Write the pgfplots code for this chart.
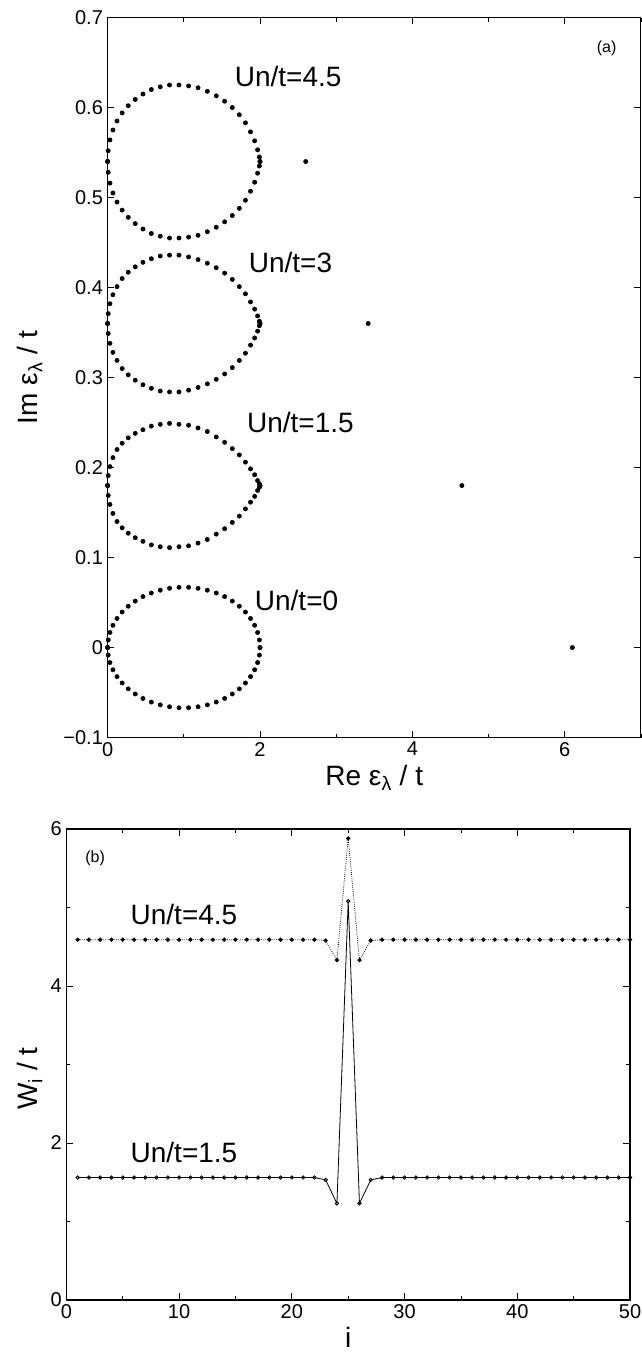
\documentclass[border=0pt]{standalone}
\usepackage{fontspec}
\setmainfont{Liberation Sans}
\usepackage{pgfplots}
\pgfplotsset{compat=1.18}
\usepackage{pgfplotstable}

\pgfplotstableread{
x y0t y0b y1t y1b y3t y3b y4t y4b
0 0 0 0.180 0.180 0.360 0.360 0.540 0.540
0.008 0.0084 -0.0084 0.191 0.169 0.371 0.349 0.552 0.528
0.031 0.0167 -0.0167 0.201 0.159 0.382 0.338 0.564 0.516
0.070 0.0247 -0.0247 0.211 0.149 0.392 0.328 0.575 0.505
0.124 0.0323 -0.0323 0.220 0.140 0.401 0.319 0.585 0.495
0.191 0.0394 -0.0394 0.227 0.133 0.410 0.310 0.594 0.486
0.271 0.0459 -0.0459 0.233 0.127 0.417 0.303 0.602 0.478
0.363 0.0516 -0.0516 0.238 0.122 0.423 0.297 0.609 0.471
0.464 0.0566 -0.0566 0.242 0.118 0.428 0.292 0.615 0.465
0.574 0.0606 -0.0606 0.246 0.114 0.432 0.288 0.620 0.460
0.691 0.0637 -0.0637 0.248 0.112 0.435 0.285 0.623 0.457
0.813 0.0658 -0.0658 0.249 0.111 0.436 0.284 0.625 0.455
0.937 0.0669 -0.0669 0.248 0.112 0.436 0.284 0.625 0.455
1.063 0.0669 -0.0669 0.247 0.113 0.434 0.286 0.624 0.456
1.187 0.0658 -0.0658 0.244 0.116 0.431 0.289 0.622 0.458
1.309 0.0637 -0.0637 0.240 0.120 0.427 0.293 0.618 0.462
1.426 0.0606 -0.0606 0.234 0.126 0.422 0.298 0.613 0.467
1.536 0.0566 -0.0566 0.228 0.132 0.416 0.304 0.607 0.473
1.637 0.0516 -0.0516 0.221 0.139 0.409 0.311 0.600 0.480
1.729 0.0459 -0.0459 0.214 0.146 0.401 0.319 0.592 0.488
1.809 0.0394 -0.0394 0.206 0.154 0.393 0.327 0.583 0.497
1.876 0.0323 -0.0323 0.1985 0.1615 0.384 0.336 0.573 0.507
1.930 0.0247 -0.0247 0.192 0.168 0.376 0.344 0.563 0.517
1.969 0.0167 -0.0167 0.1855 0.1745 0.3685 0.3515 0.553 0.527
1.992 0.0084 -0.0084 0.182 0.178 0.3625 0.3575 0.545 0.535
2 0 0 0.180 0.180 0.360 0.360 0.540 0.540
}\loops

\pgfplotstableread{
i w45 w15
1 4.59 1.56
2 4.59 1.56
3 4.59 1.56
4 4.59 1.56
5 4.59 1.56
6 4.59 1.56
7 4.59 1.56
8 4.59 1.56
9 4.59 1.56
10 4.59 1.56
11 4.59 1.56
12 4.59 1.56
13 4.59 1.56
14 4.59 1.56
15 4.59 1.56
16 4.59 1.56
17 4.59 1.56
18 4.59 1.56
19 4.59 1.56
20 4.59 1.56
21 4.59 1.56
22 4.59 1.56
23 4.58 1.53
24 4.33 1.23
25 5.88 5.08
26 4.33 1.23
27 4.58 1.53
28 4.59 1.56
29 4.59 1.56
30 4.59 1.56
31 4.59 1.56
32 4.59 1.56
33 4.59 1.56
34 4.59 1.56
35 4.59 1.56
36 4.59 1.56
37 4.59 1.56
38 4.59 1.56
39 4.59 1.56
40 4.59 1.56
41 4.59 1.56
42 4.59 1.56
43 4.59 1.56
44 4.59 1.56
45 4.59 1.56
46 4.59 1.56
47 4.59 1.56
48 4.59 1.56
49 4.59 1.56
50 4.59 1.56
}\wdata

\pgfplotsset{
  myaxis/.style={
    scale only axis,
    anchor=south west,
    axis line style={line width=0.8pt},
    every tick/.style={black, line width=0.6pt},
    tick align=inside,
    major tick length=5pt,
    minor tick length=3pt,
    tick label style={font=\fontsize{15}{17}\selectfont},
    label style={font=\fontsize{21}{24}\selectfont},
    /pgf/number format/assume math mode=true,
  },
  dots/.style={only marks, mark=*, mark size=1.6pt, black},
}

\begin{document}
\begin{tikzpicture}
\useasboundingbox (0,0) rectangle (481.5pt,1014.75pt);
% ---------- panel (a)
\begin{axis}[myaxis,
  at={(80.7pt,461.6pt)}, width=400pt, height=540pt,
  xmin=0, xmax=7, ymin=-0.1, ymax=0.7,
  xtick={0,2,4,6}, minor xtick={1,3,5,7},
  ytick={-0.1,0,0.1,0.2,0.3,0.4,0.5,0.6,0.7},
  yticklabels={−0.1,0,0.1,0.2,0.3,0.4,0.5,0.6,0.7},
  xlabel={Re ε\textsubscript{λ} / t},
  ylabel={Im ε\textsubscript{λ} / t},
  xlabel style={at={(axis description cs:0.5,0)}, anchor=center, yshift=-30pt},
  ylabel style={at={(axis description cs:-0.1455,0.5)}, anchor=center, rotate=0},
  clip=false,
]
\addplot[dots] table[x=x,y=y0t]{\loops};
\addplot[dots] table[x=x,y=y0b]{\loops};
\addplot[dots] table[x=x,y=y1t]{\loops};
\addplot[dots] table[x=x,y=y1b]{\loops};
\addplot[dots] table[x=x,y=y3t]{\loops};
\addplot[dots] table[x=x,y=y3b]{\loops};
\addplot[dots] table[x=x,y=y4t]{\loops};
\addplot[dots] table[x=x,y=y4b]{\loops};
\addplot[dots] coordinates {(2.6,0.54) (3.42,0.36) (4.65,0.18) (6.1,0)};
\node[font=\fontsize{21}{24}\selectfont] at (axis cs:2.37,0.634) {Un/t=4.5};
\node[font=\fontsize{21}{24}\selectfont] at (axis cs:2.4,0.428) {Un/t=3};
\node[font=\fontsize{21}{24}\selectfont] at (axis cs:2.53,0.25) {Un/t=1.5};
\node[font=\fontsize{21}{24}\selectfont] at (axis cs:2.48,0.052) {Un/t=0};
\node[font=\fontsize{12}{14}\selectfont] at (axis cs:6.55,0.666) {(a)};
\end{axis}
% ---------- panel (b)
\begin{axis}[myaxis,
  at={(49.8pt,39.75pt)}, width=422.7pt, height=353.25pt,
  xmin=0, xmax=50, ymin=0, ymax=6,
  xtick={0,10,20,30,40,50}, minor xtick={5,15,25,35,45},
  ytick={0,2,4,6}, minor ytick={1,3,5},
  xlabel={i},
  ylabel={W\textsubscript{i} / t},
  xlabel style={at={(axis description cs:0.5,0)}, anchor=center, yshift=-28pt},
  ylabel style={at={(axis description cs:-0.0646,0.47)}, anchor=center},
]
\addplot[black, densely dotted, line width=0.6pt, mark=*, mark size=1.3pt, mark options={solid}] table[x=i,y=w45]{\wdata};
\addplot[black, line width=0.6pt, mark=o, mark size=1.3pt, mark options={solid, fill=white}] table[x=i,y=w15]{\wdata};
\node[font=\fontsize{21}{24}\selectfont] at (axis cs:10.43,4.91) {Un/t=4.5};
\node[font=\fontsize{21}{24}\selectfont] at (axis cs:10.43,1.88) {Un/t=1.5};
\node[font=\fontsize{12}{14}\selectfont] at (axis cs:2.55,5.62) {(b)};
\end{axis}
\end{tikzpicture}
\end{document}
